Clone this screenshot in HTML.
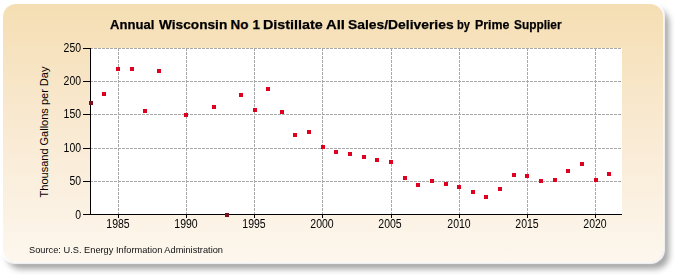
<!DOCTYPE html>
<html><head><meta charset="utf-8"><style>
html,body{margin:0;padding:0;width:675px;height:275px;background:#fff;overflow:hidden;position:relative;font-family:"Liberation Sans",sans-serif;}
.box{position:absolute;left:3px;top:4px;width:660px;height:258px;border-radius:13px;
background:linear-gradient(to bottom,#f5deb3 0%,#f9ead3 50%,#fdf7ee 100%);
box-shadow:0 0 1px 1.5px rgba(255,255,255,0.9), 5px 6px 6px 1px rgba(0,0,0,0.36);filter:blur(0.6px);}
svg{position:absolute;left:0;top:0;}
.tw{position:absolute;top:17px;font-weight:bold;font-size:13.35px;color:#000;white-space:nowrap;line-height:16px;transform-origin:left center;-webkit-text-stroke:0.25px #000;}
.yl{position:absolute;left:41px;width:40px;text-align:right;font-size:12px;line-height:16px;color:#000;transform:scaleX(0.87);transform-origin:right center;}
.xl{position:absolute;top:216px;width:40px;text-align:center;font-size:12px;line-height:16px;color:#000;transform:scaleX(0.875);}
.ytitle{position:absolute;left:44px;top:132px;font-size:11px;line-height:12px;white-space:nowrap;transform:translate(-50%,-50%) rotate(-90deg);}
.src{position:absolute;left:29px;top:243px;font-size:9.8px;line-height:14px;white-space:nowrap;color:#111;transform:scaleX(0.945);transform-origin:left center;}
</style></head><body>
<div class="box"></div>
<svg width="675" height="275" viewBox="0 0 675 275" shape-rendering="crispEdges">
<rect x="91" y="48" width="531" height="166" fill="#fff"/>
<g stroke="#a8a8a8" stroke-width="1" stroke-dasharray="3 1"><line x1="90" y1="48.5" x2="622" y2="48.5"/><line x1="90" y1="81.5" x2="622" y2="81.5"/><line x1="90" y1="114.5" x2="622" y2="114.5"/><line x1="90" y1="148.5" x2="622" y2="148.5"/><line x1="90" y1="181.5" x2="622" y2="181.5"/><line x1="118.5" y1="48" x2="118.5" y2="214"/><line x1="186.5" y1="48" x2="186.5" y2="214"/><line x1="254.5" y1="48" x2="254.5" y2="214"/><line x1="322.5" y1="48" x2="322.5" y2="214"/><line x1="391.5" y1="48" x2="391.5" y2="214"/><line x1="459.5" y1="48" x2="459.5" y2="214"/><line x1="527.5" y1="48" x2="527.5" y2="214"/><line x1="595.5" y1="48" x2="595.5" y2="214"/></g>
<g stroke="#000" stroke-width="1">
<line x1="90.5" y1="48" x2="90.5" y2="215"/>
<line x1="83" y1="214.5" x2="622" y2="214.5"/>
<line x1="83" y1="48.5" x2="91" y2="48.5"/><line x1="83" y1="81.5" x2="91" y2="81.5"/><line x1="83" y1="114.5" x2="91" y2="114.5"/><line x1="83" y1="148.5" x2="91" y2="148.5"/><line x1="83" y1="181.5" x2="91" y2="181.5"/><line x1="83" y1="214.5" x2="91" y2="214.5"/><line x1="118.5" y1="214" x2="118.5" y2="218"/><line x1="186.5" y1="214" x2="186.5" y2="218"/><line x1="254.5" y1="214" x2="254.5" y2="218"/><line x1="322.5" y1="214" x2="322.5" y2="218"/><line x1="391.5" y1="214" x2="391.5" y2="218"/><line x1="459.5" y1="214" x2="459.5" y2="218"/><line x1="527.5" y1="214" x2="527.5" y2="218"/><line x1="595.5" y1="214" x2="595.5" y2="218"/>
</g>
<g fill="#de0020"><rect x="89" y="101" width="4" height="4" fill="#7a1020"/><rect x="102" y="92" width="4" height="4"/><rect x="116" y="67" width="4" height="4"/><rect x="130" y="67" width="4" height="4"/><rect x="143" y="109" width="4" height="4"/><rect x="157" y="69" width="4" height="4"/><rect x="184" y="113" width="4" height="4"/><rect x="212" y="105" width="4" height="4"/><rect x="225" y="213" width="4" height="4" fill="#7a1020"/><rect x="239" y="93" width="4" height="4"/><rect x="253" y="108" width="4" height="4"/><rect x="266" y="87" width="4" height="4"/><rect x="280" y="110" width="4" height="4"/><rect x="293" y="133" width="4" height="4"/><rect x="307" y="130" width="4" height="4"/><rect x="321" y="145" width="4" height="4"/><rect x="334" y="150" width="4" height="4"/><rect x="348" y="152" width="4" height="4"/><rect x="362" y="155" width="4" height="4"/><rect x="375" y="158" width="4" height="4"/><rect x="389" y="160" width="4" height="4"/><rect x="403" y="176" width="4" height="4"/><rect x="416" y="183" width="4" height="4"/><rect x="430" y="179" width="4" height="4"/><rect x="444" y="182" width="4" height="4"/><rect x="457" y="185" width="4" height="4"/><rect x="471" y="190" width="4" height="4"/><rect x="484" y="195" width="4" height="4"/><rect x="498" y="187" width="4" height="4"/><rect x="512" y="173" width="4" height="4"/><rect x="525" y="174" width="4" height="4"/><rect x="539" y="179" width="4" height="4"/><rect x="553" y="178" width="4" height="4"/><rect x="566" y="169" width="4" height="4"/><rect x="580" y="162" width="4" height="4"/><rect x="594" y="178" width="4" height="4"/><rect x="607" y="172" width="4" height="4"/></g>
</svg>
<span class="tw" style="left:110.2px;transform:scaleX(0.98)">Annual</span><span class="tw" style="left:158.9px;transform:scaleX(1.025)">Wisconsin</span><span class="tw" style="left:230.6px;transform:scaleX(1.0)">No</span><span class="tw" style="left:252.6px;transform:scaleX(1.0)">1</span><span class="tw" style="left:262.82px;transform:scaleX(1.076)">Distillate</span><span class="tw" style="left:325.8px;transform:scaleX(1.113)">All</span><span class="tw" style="left:348.1px;transform:scaleX(1.039)">Sales/Deliveries</span><span class="tw" style="left:457.37px;transform:scaleX(0.833)">by</span><span class="tw" style="left:475.09px;transform:scaleX(0.93)">Prime</span><span class="tw" style="left:513.9px;transform:scaleX(0.89)">Supplier</span>
<div class="yl" style="top:40px">250</div><div class="yl" style="top:73px">200</div><div class="yl" style="top:106px">150</div><div class="yl" style="top:140px">100</div><div class="yl" style="top:173px">50</div><div class="yl" style="top:207px">0</div>
<div class="xl" style="left:97.6px">1985</div><div class="xl" style="left:166.3px">1990</div><div class="xl" style="left:234.25px">1995</div><div class="xl" style="left:302.15px">2000</div><div class="xl" style="left:370.2px">2005</div><div class="xl" style="left:439.3px">2010</div><div class="xl" style="left:507.15px">2015</div><div class="xl" style="left:575.25px">2020</div>
<div class="ytitle">Thousand Gallons per Day</div>
<div class="src">Source: U.S. Energy Information Administration</div>
</body></html>
